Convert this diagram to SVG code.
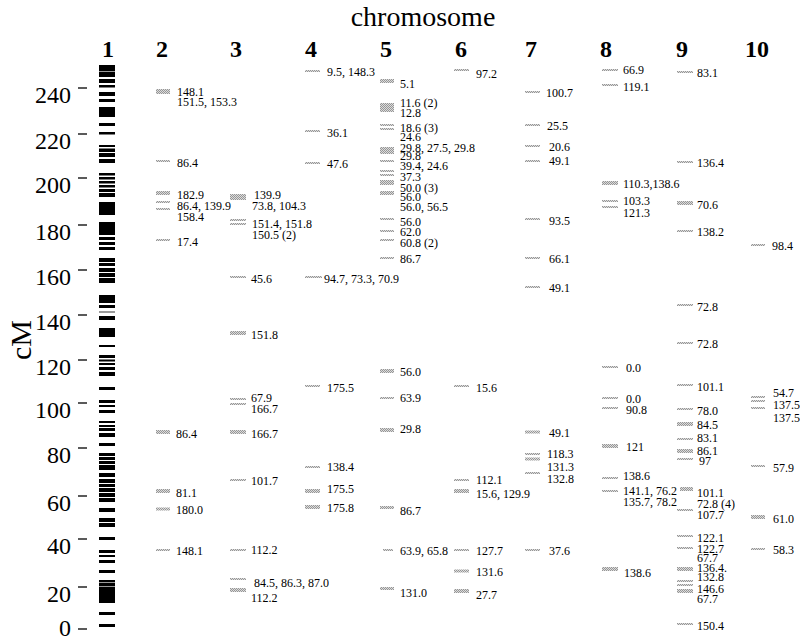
<svg xmlns="http://www.w3.org/2000/svg" width="800" height="641" viewBox="0 0 800 641">
<style>
.l{font-family:"Liberation Serif","Times New Roman",serif;font-size:12px;fill:#000}
.ax{font-family:"Liberation Serif","Times New Roman",serif;font-size:24px;fill:#000;text-anchor:end}
.hd{font-family:"Liberation Serif","Times New Roman",serif;font-size:24px;font-weight:bold;fill:#000;text-anchor:middle}
.m{fill:url(#hatch)}
.b{fill:#000}
.g{fill:#9a9a9a}
.tk{stroke:#000;stroke-width:1.3}
</style>
<defs>
<pattern id="hatch" width="2" height="2" patternUnits="userSpaceOnUse">
<rect width="2" height="2" fill="#dcdcdc"/>
<rect width="1" height="1" fill="#969696"/>
<rect x="1" y="1" width="1" height="1" fill="#969696"/>
</pattern>
</defs>
<rect width="800" height="641" fill="#fff"/>
<text x="423" y="26" font-family="Liberation Serif, Times New Roman, serif" font-size="28" text-anchor="middle">chromosome</text>
<text transform="translate(31,340) rotate(-90)" font-family="Liberation Serif, Times New Roman, serif" font-size="30" text-anchor="middle">cM</text>
<g id="axis">
<line class="tk" x1="78" y1="88" x2="87" y2="88"/><text class="ax" x="71" y="103">240</text>
<line class="tk" x1="78" y1="134" x2="87" y2="134"/><text class="ax" x="71" y="149">220</text>
<line class="tk" x1="78" y1="178" x2="87" y2="178"/><text class="ax" x="71" y="193">200</text>
<line class="tk" x1="78" y1="225" x2="87" y2="225"/><text class="ax" x="71" y="240">180</text>
<line class="tk" x1="78" y1="270" x2="87" y2="270"/><text class="ax" x="71" y="285">160</text>
<line class="tk" x1="78" y1="315" x2="87" y2="315"/><text class="ax" x="71" y="330">140</text>
<line class="tk" x1="78" y1="360" x2="87" y2="360"/><text class="ax" x="71" y="375">120</text>
<line class="tk" x1="78" y1="403" x2="87" y2="403"/><text class="ax" x="71" y="418">100</text>
<line class="tk" x1="78" y1="448" x2="87" y2="448"/><text class="ax" x="71" y="463">80</text>
<line class="tk" x1="78" y1="496" x2="87" y2="496"/><text class="ax" x="71" y="511">60</text>
<line class="tk" x1="78" y1="539" x2="87" y2="539"/><text class="ax" x="71" y="554">40</text>
<line class="tk" x1="78" y1="587" x2="87" y2="587"/><text class="ax" x="71" y="602">20</text>
<line class="tk" x1="78" y1="629" x2="87" y2="629"/><text class="ax" x="71" y="636">0</text>
</g>
<g id="headers">
<text class="hd" x="108" y="57">1</text>
<text class="hd" x="162" y="57">2</text>
<text class="hd" x="236" y="57">3</text>
<text class="hd" x="311" y="57">4</text>
<text class="hd" x="386" y="57">5</text>
<text class="hd" x="461" y="57">6</text>
<text class="hd" x="531" y="57">7</text>
<text class="hd" x="606" y="57">8</text>
<text class="hd" x="682" y="57">9</text>
<text class="hd" x="757" y="57">10</text>
</g>
<g id="chr1">
<rect class="b" x="99" y="65" width="16" height="12"/><rect class="g" x="99" y="71" width="16" height="1"/>
<rect class="b" x="99" y="79" width="16" height="4"/>
<rect class="b" x="99" y="85" width="16" height="2.5"/>
<rect class="b" x="99" y="92" width="16" height="4"/>
<rect class="b" x="99" y="99" width="16" height="3"/>
<rect class="b" x="99" y="107" width="16" height="10"/>
<rect class="b" x="99" y="123" width="16" height="3"/>
<rect class="b" x="99" y="132" width="16" height="2.5"/>
<rect class="b" x="99" y="145" width="16" height="2"/>
<rect class="b" x="99" y="148.5" width="16" height="3.5"/>
<rect class="b" x="99" y="153" width="16" height="4"/>
<rect class="b" x="99" y="159" width="16" height="4"/>
<rect class="b" x="99" y="173" width="16" height="2.5"/>
<rect class="b" x="99" y="177" width="16" height="2.5"/>
<rect class="b" x="99" y="181" width="16" height="2.5"/>
<rect class="b" x="99" y="185" width="16" height="2.5"/>
<rect class="b" x="99" y="189" width="16" height="3"/>
<rect class="b" x="99" y="193" width="16" height="4"/>
<rect class="b" x="99" y="202" width="16" height="13"/>
<rect class="b" x="99" y="222" width="16" height="13"/>
<rect class="b" x="99" y="237" width="16" height="3"/>
<rect class="b" x="99" y="242" width="16" height="3"/>
<rect class="b" x="99" y="247" width="16" height="3"/>
<rect class="b" x="99" y="258" width="16" height="4"/>
<rect class="b" x="99" y="263" width="16" height="3"/>
<rect class="b" x="99" y="268" width="16" height="4"/>
<rect class="b" x="99" y="273" width="16" height="4"/>
<rect class="b" x="99" y="278" width="16" height="5"/>
<rect class="b" x="99" y="295" width="16" height="8"/>
<rect class="b" x="99" y="305" width="16" height="3"/>
<rect class="g" x="99" y="311" width="16" height="2"/>
<rect class="b" x="99" y="316" width="16" height="4"/>
<rect class="b" x="99" y="328" width="16" height="9"/>
<rect class="b" x="99" y="345" width="16" height="2"/>
<rect class="b" x="99" y="355" width="16" height="3"/>
<rect class="b" x="99" y="359.5" width="16" height="2"/>
<rect class="b" x="99" y="363" width="16" height="2"/>
<rect class="b" x="99" y="367" width="16" height="3"/>
<rect class="b" x="99" y="372" width="16" height="4"/>
<rect class="b" x="99" y="387" width="16" height="3"/>
<rect class="b" x="99" y="400" width="16" height="3"/>
<rect class="b" x="99" y="405" width="16" height="2"/>
<rect class="b" x="99" y="410" width="16" height="3"/>
<rect class="b" x="99" y="421" width="16" height="2"/>
<rect class="b" x="99" y="425" width="16" height="2"/>
<rect class="b" x="99" y="428" width="16" height="3"/>
<rect class="b" x="99" y="433" width="16" height="4"/>
<rect class="b" x="99" y="443" width="16" height="3"/>
<rect class="b" x="99" y="453" width="16" height="3"/>
<rect class="b" x="99" y="457" width="16" height="3"/>
<rect class="b" x="99" y="461" width="16" height="3"/>
<rect class="b" x="99" y="465" width="16" height="5"/>
<rect class="b" x="99" y="473" width="16" height="4"/>
<rect class="b" x="99" y="479" width="16" height="4"/>
<rect class="b" x="99" y="484" width="16" height="3"/>
<rect class="b" x="99" y="488" width="16" height="4"/>
<rect class="b" x="99" y="493" width="16" height="4"/>
<rect class="b" x="99" y="498" width="16" height="4"/>
<rect class="b" x="99" y="508" width="16" height="4"/>
<rect class="b" x="99" y="518" width="16" height="4"/>
<rect class="b" x="99" y="523" width="16" height="4"/>
<rect class="b" x="99" y="537" width="16" height="3"/>
<rect class="b" x="99" y="550" width="16" height="3"/>
<rect class="b" x="99" y="555" width="16" height="2"/>
<rect class="b" x="99" y="560" width="16" height="3"/>
<rect class="b" x="99" y="570" width="16" height="3"/>
<rect class="b" x="99" y="580" width="16" height="23"/><rect class="g" x="99" y="582" width="16" height="1"/><rect class="g" x="99" y="586" width="16" height="1"/>
<rect class="b" x="99" y="612" width="16" height="3"/>
<rect class="b" x="99" y="624" width="16" height="3"/>
</g>
<g id="chr2">
<rect class="m" x="156" y="89" width="14" height="5"/>
<rect class="m" x="156" y="160" width="14" height="2"/>
<rect class="m" x="156" y="191" width="14" height="4"/>
<rect class="m" x="156" y="201" width="14" height="2"/>
<rect class="m" x="156" y="208" width="14" height="2"/>
<rect class="m" x="156" y="239" width="14" height="2"/>
<rect class="m" x="156" y="430" width="14" height="4"/>
<rect class="m" x="156" y="489" width="14" height="4"/>
<rect class="m" x="156" y="507.5" width="14" height="3"/>
<rect class="m" x="156" y="549" width="14" height="2"/>
<text class="l" x="177" y="96">148.1</text>
<text class="l" x="177" y="106">151.5, 153.3</text>
<text class="l" x="177" y="167">86.4</text>
<text class="l" x="177" y="199">182.9</text>
<text class="l" x="177" y="210">86.4, 139.9</text>
<text class="l" x="177" y="221">158.4</text>
<text class="l" x="177" y="246">17.4</text>
<text class="l" x="176" y="438">86.4</text>
<text class="l" x="176" y="497">81.1</text>
<text class="l" x="176" y="514">180.0</text>
<text class="l" x="176" y="555">148.1</text>
</g>
<g id="chr3">
<rect class="m" x="230" y="194" width="16" height="6"/>
<rect class="m" x="230" y="219" width="16" height="2"/>
<rect class="m" x="230" y="223" width="16" height="2"/>
<rect class="m" x="230" y="276" width="16" height="2"/>
<rect class="m" x="230" y="331" width="16" height="4"/>
<rect class="m" x="230" y="398" width="16" height="2"/>
<rect class="m" x="230" y="403" width="16" height="2"/>
<rect class="m" x="230" y="430" width="16" height="4"/>
<rect class="m" x="230" y="479" width="16" height="2"/>
<rect class="m" x="230" y="549" width="16" height="2"/>
<rect class="m" x="230" y="578" width="16" height="2"/>
<rect class="m" x="230" y="588" width="16" height="4"/>
<text class="l" x="254" y="199">139.9</text>
<text class="l" x="252" y="210">73.8, 104.3</text>
<text class="l" x="252" y="228">151.4, 151.8</text>
<text class="l" x="252" y="239">150.5 (2)</text>
<text class="l" x="251" y="283">45.6</text>
<text class="l" x="251" y="339">151.8</text>
<text class="l" x="251" y="402">67.9</text>
<text class="l" x="251" y="413">166.7</text>
<text class="l" x="251" y="438">166.7</text>
<text class="l" x="251" y="485">101.7</text>
<text class="l" x="251" y="554">112.2</text>
<text class="l" x="254" y="587">84.5, 86.3, 87.0</text>
<text class="l" x="251" y="602">112.2</text>
</g>
<g id="chr4">
<rect class="m" x="305" y="70" width="15" height="2"/>
<rect class="m" x="305" y="130" width="15" height="2"/>
<rect class="m" x="305" y="162" width="15" height="2"/>
<rect class="m" x="305" y="276" width="17" height="2"/>
<rect class="m" x="305" y="385" width="15" height="2"/>
<rect class="m" x="305" y="466" width="15" height="2"/>
<rect class="m" x="305" y="489" width="15" height="4"/>
<rect class="m" x="305" y="505" width="15" height="4"/>
<text class="l" x="327" y="76">9.5, 148.3</text>
<text class="l" x="327" y="137">36.1</text>
<text class="l" x="327" y="168">47.6</text>
<text class="l" x="324" y="283">94.7, 73.3, 70.9</text>
<text class="l" x="327" y="392">175.5</text>
<text class="l" x="327" y="471">138.4</text>
<text class="l" x="327" y="493">175.5</text>
<text class="l" x="327" y="512">175.8</text>
</g>
<g id="chr5">
<rect class="m" x="380" y="79" width="14" height="4"/>
<rect class="m" x="380" y="103" width="14" height="9"/>
<rect class="m" x="380" y="124" width="14" height="2"/>
<rect class="m" x="380" y="128" width="14" height="2"/>
<rect class="m" x="380" y="147" width="14" height="7"/>
<rect class="m" x="380" y="160" width="14" height="2"/>
<rect class="m" x="380" y="170" width="14" height="2"/>
<rect class="m" x="380" y="174" width="14" height="2"/>
<rect class="m" x="380" y="180" width="14" height="5"/>
<rect class="m" x="380" y="191" width="14" height="4"/>
<rect class="m" x="380" y="218" width="14" height="2"/>
<rect class="m" x="380" y="230" width="14" height="2"/>
<rect class="m" x="380" y="239" width="14" height="2"/>
<rect class="m" x="380" y="257" width="14" height="2"/>
<rect class="m" x="380" y="369" width="14" height="4"/>
<rect class="m" x="380" y="397" width="14" height="2"/>
<rect class="m" x="380" y="428" width="14" height="4"/>
<rect class="m" x="380" y="506" width="14" height="3"/>
<rect class="m" x="383" y="549" width="10" height="2"/>
<rect class="m" x="380" y="587" width="14" height="3"/>
<text class="l" x="400" y="88">5.1</text>
<text class="l" x="400" y="107">11.6 (2)</text>
<text class="l" x="400" y="117">12.8</text>
<text class="l" x="400" y="132">18.6 (3)</text>
<text class="l" x="400" y="141">24.6</text>
<text class="l" x="400" y="152">29.8, 27.5, 29.8</text>
<text class="l" x="400" y="160">29.8</text>
<text class="l" x="400" y="170">39.4, 24.6</text>
<text class="l" x="400" y="181">37.3</text>
<text class="l" x="400" y="192">50.0 (3)</text>
<text class="l" x="400" y="201">56.0</text>
<text class="l" x="400" y="211">56.0, 56.5</text>
<text class="l" x="400" y="226">56.0</text>
<text class="l" x="400" y="236">62.0</text>
<text class="l" x="400" y="247">60.8 (2)</text>
<text class="l" x="400" y="263">86.7</text>
<text class="l" x="400" y="376">56.0</text>
<text class="l" x="400" y="402">63.9</text>
<text class="l" x="400" y="433">29.8</text>
<text class="l" x="400" y="515">86.7</text>
<text class="l" x="400" y="555">63.9, 65.8</text>
<text class="l" x="400" y="597">131.0</text>
</g>
<g id="chr6">
<rect class="m" x="454" y="69" width="15" height="2"/>
<rect class="m" x="454" y="385" width="15" height="2"/>
<rect class="m" x="454" y="479" width="15" height="2"/>
<rect class="m" x="454" y="489" width="15" height="4"/>
<rect class="m" x="454" y="549" width="15" height="2"/>
<rect class="m" x="454" y="569.5" width="15" height="3"/>
<rect class="m" x="454" y="589" width="15" height="4"/>
<text class="l" x="476" y="78">97.2</text>
<text class="l" x="476" y="392">15.6</text>
<text class="l" x="476" y="484">112.1</text>
<text class="l" x="476" y="498">15.6, 129.9</text>
<text class="l" x="476" y="555">127.7</text>
<text class="l" x="476" y="576">131.6</text>
<text class="l" x="476" y="599">27.7</text>
</g>
<g id="chr7">
<rect class="m" x="525" y="91" width="15" height="2"/>
<rect class="m" x="525" y="124" width="15" height="2"/>
<rect class="m" x="525" y="145" width="15" height="2"/>
<rect class="m" x="525" y="160" width="15" height="2"/>
<rect class="m" x="525" y="218" width="15" height="2"/>
<rect class="m" x="525" y="257" width="15" height="2"/>
<rect class="m" x="525" y="286" width="15" height="2"/>
<rect class="m" x="525" y="430.5" width="15" height="3"/>
<rect class="m" x="525" y="453" width="15" height="2"/>
<rect class="m" x="525" y="457.5" width="15" height="3"/>
<rect class="m" x="525" y="472" width="15" height="2"/>
<rect class="m" x="525" y="549" width="15" height="2"/>
<text class="l" x="546" y="97">100.7</text>
<text class="l" x="547" y="130">25.5</text>
<text class="l" x="549" y="151">20.6</text>
<text class="l" x="549" y="165">49.1</text>
<text class="l" x="549" y="225">93.5</text>
<text class="l" x="549" y="263">66.1</text>
<text class="l" x="549" y="292">49.1</text>
<text class="l" x="549" y="437">49.1</text>
<text class="l" x="547" y="458">118.3</text>
<text class="l" x="547" y="471">131.3</text>
<text class="l" x="547" y="483">132.8</text>
<text class="l" x="549" y="555">37.6</text>
</g>
<g id="chr8">
<rect class="m" x="602" y="69" width="16" height="2"/>
<rect class="m" x="602" y="84" width="16" height="2"/>
<rect class="m" x="602" y="181" width="16" height="4"/>
<rect class="m" x="602" y="200" width="16" height="2"/>
<rect class="m" x="602" y="206" width="16" height="2"/>
<rect class="m" x="602" y="366" width="16" height="2"/>
<rect class="m" x="602" y="397" width="16" height="2"/>
<rect class="m" x="602" y="407" width="16" height="2"/>
<rect class="m" x="602" y="444" width="16" height="4"/>
<rect class="m" x="602" y="477" width="16" height="2"/>
<rect class="m" x="602" y="490" width="16" height="2"/>
<rect class="m" x="602" y="567" width="16" height="4"/>
<text class="l" x="623" y="74">66.9</text>
<text class="l" x="623" y="91">119.1</text>
<text class="l" x="623" y="188">110.3,138.6</text>
<text class="l" x="623" y="205">103.3</text>
<text class="l" x="623" y="217">121.3</text>
<text class="l" x="626" y="372">0.0</text>
<text class="l" x="626" y="403">0.0</text>
<text class="l" x="626" y="414">90.8</text>
<text class="l" x="626" y="451">121</text>
<text class="l" x="623" y="480">138.6</text>
<text class="l" x="623" y="495">141.1, 76.2</text>
<text class="l" x="623" y="506">135.7, 78.2</text>
<text class="l" x="624" y="577">138.6</text>
</g>
<g id="chr9">
<rect class="m" x="677" y="71" width="16" height="2"/>
<rect class="m" x="677" y="161" width="16" height="2"/>
<rect class="m" x="677" y="201" width="16" height="4"/>
<rect class="m" x="677" y="230" width="16" height="2"/>
<rect class="m" x="677" y="304" width="16" height="2"/>
<rect class="m" x="677" y="342" width="16" height="2"/>
<rect class="m" x="677" y="384" width="16" height="2"/>
<rect class="m" x="677" y="408" width="16" height="2"/>
<rect class="m" x="677" y="422" width="16" height="4"/>
<rect class="m" x="677" y="438" width="16" height="2"/>
<rect class="m" x="677" y="449" width="16" height="4"/>
<rect class="m" x="677" y="458" width="16" height="2"/>
<rect class="m" x="680" y="487" width="13" height="4"/>
<rect class="m" x="677" y="509" width="16" height="2"/>
<rect class="m" x="677" y="535" width="16" height="2"/>
<rect class="m" x="677" y="547" width="16" height="2"/>
<rect class="m" x="677" y="567" width="16" height="4"/>
<rect class="m" x="677" y="580" width="16" height="2"/>
<rect class="m" x="677" y="584" width="16" height="2"/>
<rect class="m" x="677" y="589" width="16" height="4"/>
<rect class="m" x="677" y="623" width="16" height="2"/>
<text class="l" x="697" y="77">83.1</text>
<text class="l" x="697" y="167">136.4</text>
<text class="l" x="697" y="209">70.6</text>
<text class="l" x="697" y="236">138.2</text>
<text class="l" x="697" y="311">72.8</text>
<text class="l" x="697" y="348">72.8</text>
<text class="l" x="697" y="391">101.1</text>
<text class="l" x="697" y="415">78.0</text>
<text class="l" x="697" y="429">84.5</text>
<text class="l" x="697" y="442">83.1</text>
<text class="l" x="697" y="455">86.1</text>
<text class="l" x="699" y="465">97</text>
<text class="l" x="697" y="497">101.1</text>
<text class="l" x="697" y="508">72.8 (4)</text>
<text class="l" x="697" y="519">107.7</text>
<text class="l" x="697" y="542">122.1</text>
<text class="l" x="697" y="553">122.7</text>
<text class="l" x="697" y="562">67.7</text>
<text class="l" x="697" y="572">136.4.</text>
<text class="l" x="697" y="581">132.8</text>
<text class="l" x="697" y="593">146.6</text>
<text class="l" x="697" y="603">67.7</text>
<text class="l" x="697" y="630">150.4</text>
</g>
<g id="chr10">
<rect class="m" x="751" y="244" width="14" height="2"/>
<rect class="m" x="751" y="396" width="14" height="2"/>
<rect class="m" x="751" y="400" width="14" height="2"/>
<rect class="m" x="751" y="407" width="14" height="2"/>
<rect class="m" x="751" y="465" width="14" height="2"/>
<rect class="m" x="751" y="515" width="14" height="4"/>
<rect class="m" x="751" y="548" width="14" height="2"/>
<text class="l" x="772" y="250">98.4</text>
<text class="l" x="773" y="397">54.7</text>
<text class="l" x="773" y="409">137.5</text>
<text class="l" x="773" y="422">137.5</text>
<text class="l" x="773" y="472">57.9</text>
<text class="l" x="773" y="523">61.0</text>
<text class="l" x="773" y="554">58.3</text>
</g>
</svg>
